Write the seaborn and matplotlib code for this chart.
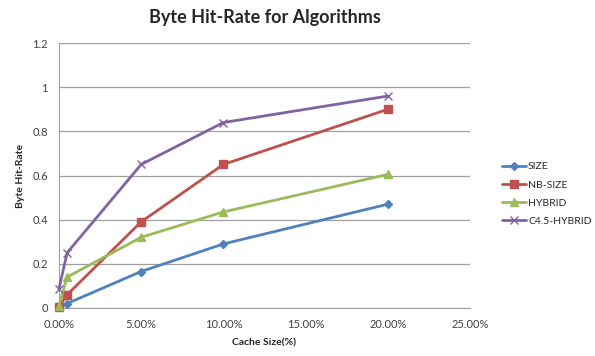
import pandas as pd
import seaborn as sns
import matplotlib.pyplot as plt
from matplotlib.ticker import PercentFormatter, MultipleLocator

# cache size as fraction
cache_size = [0.0, 0.005, 0.05, 0.10, 0.20]
size_vals = [0.005, 0.02, 0.165, 0.29, 0.47]
nb_size_vals = [0.005, 0.06, 0.39, 0.65, 0.90]
hybrid_vals = [0.01, 0.14, 0.32, 0.435, 0.605]
c45_hybrid_vals = [0.085, 0.25, 0.65, 0.84, 0.96]

series = {
    "SIZE": size_vals,
    "NB-SIZE": nb_size_vals,
    "HYBRID": hybrid_vals,
    "C4.5-HYBRID": c45_hybrid_vals,
}

rows = []
for name, vals in series.items():
    for x, y in zip(cache_size, vals):
        rows.append({"cache": x, "rate": y, "algo": name})
df = pd.DataFrame(rows)

sns.set_style("white")
plt.rcParams["font.family"] = ["Lato", "DejaVu Sans"]

palette = {"SIZE": "#4F81BD", "NB-SIZE": "#C0504D",
           "HYBRID": "#9BBB59", "C4.5-HYBRID": "#8064A2"}
markers = {"SIZE": "D", "NB-SIZE": "s", "HYBRID": "^", "C4.5-HYBRID": "x"}
sizes_mk = {"SIZE": 4.5, "NB-SIZE": 6, "HYBRID": 6, "C4.5-HYBRID": 6}

fig = plt.figure(figsize=(5.95, 3.56), dpi=100)
ax = fig.add_axes([0.099, 0.135, 0.691, 0.744])

for name in series:
    sub = df[df["algo"] == name]
    sns.lineplot(data=sub, x="cache", y="rate", ax=ax, color=palette[name],
                 marker=markers[name], markersize=sizes_mk[name],
                 markeredgecolor=palette[name], markeredgewidth=1.0,
                 linewidth=2, label=name, clip_on=False, zorder=3)

ax.set_xlim(0, 0.25)
ax.set_ylim(0, 1.2)
ax.xaxis.set_major_locator(MultipleLocator(0.05))
ax.xaxis.set_major_formatter(PercentFormatter(1.0, decimals=2))
ax.set_yticks([0, 0.2, 0.4, 0.6, 0.8, 1, 1.2])
ax.set_yticklabels(["0", "0.2", "0.4", "0.6", "0.8", "1", "1.2"])
ax.grid(axis="y", color="#A0A0A0", linewidth=0.9)
ax.set_axisbelow(True)
for s in ["top", "right"]:
    ax.spines[s].set_visible(False)
for s in ["left", "bottom"]:
    ax.spines[s].set_color("#A0A0A0")
ax.tick_params(axis="both", labelsize=8, colors="#404040", length=0, pad=8)

ax.set_xlabel("Cache Size(%)", fontsize=7.5, fontweight="bold", labelpad=6)
ax.set_ylabel("Byte Hit-Rate", fontsize=7.5, fontweight="bold", labelpad=5)
fig.suptitle("Byte Hit-Rate for Algorithms", x=0.445, y=0.975,
             fontsize=13, fontweight="bold", color="#262626")

ax.legend(loc="center left", bbox_to_anchor=(1.055, 0.43), frameon=False,
          fontsize=7.5, labelspacing=0.85, handlelength=2.3,
          handletextpad=0.2)

fig.savefig("out.png", dpi=100)
